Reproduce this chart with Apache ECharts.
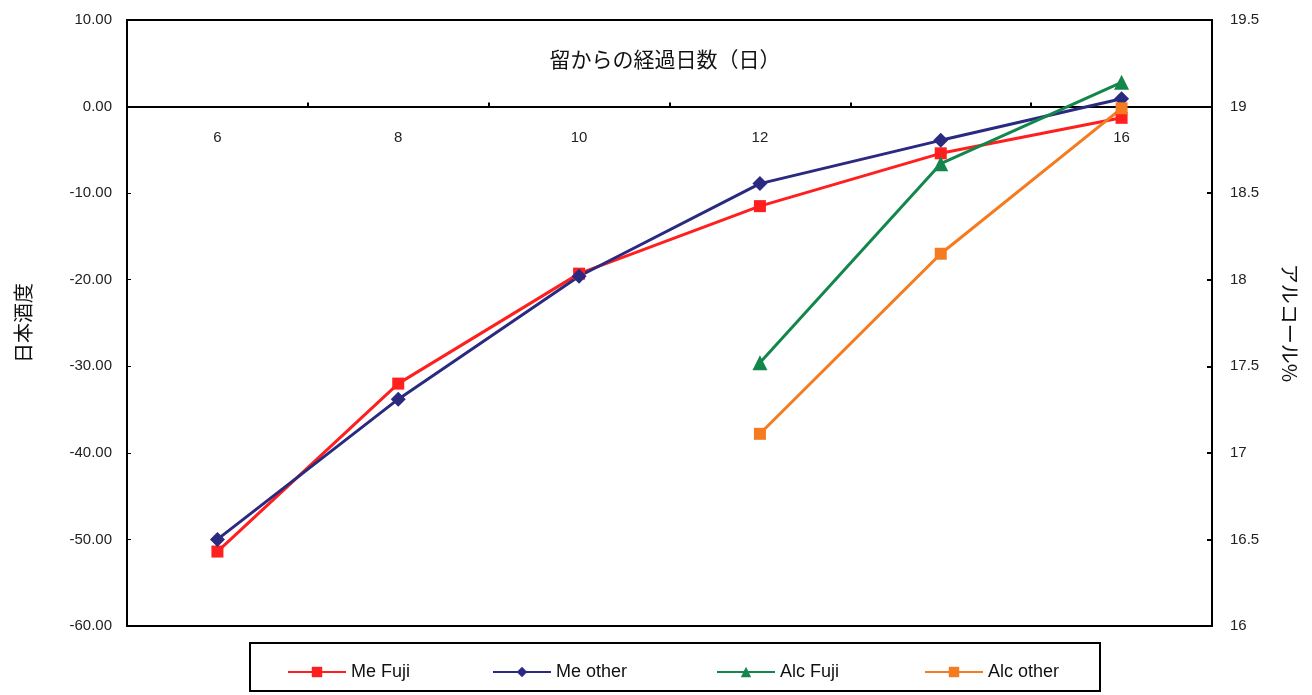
<!DOCTYPE html>
<html><head><meta charset="utf-8">
<script src="https://cdn.jsdelivr.net/npm/echarts@6/dist/echarts.min.js"></script>
<style>html,body{margin:0;padding:0;background:#fff}#c{width:1312px;height:695px}</style>
</head><body><div id="c"></div>
<script>
var categories = ['6','8','10','12','14','16'];
var meFuji   = [-51.4, -32.0, -19.3, -11.5, -5.4, -1.3];
var meOther  = [-50.0, -33.8, -19.6, -8.9, -3.9, 0.9];
var alcFuji  = [null, null, null, 17.52, 18.67, 19.14];
var alcOther = [null, null, null, 17.11, 18.15, 18.99];
var leftTicks = {min: -60, max: 10, interval: 10};
var rightTicks = {min: 16, max: 19.5, interval: 0.5};
var hiddenXLabels = ['14'];

var FONT = '"Liberation Sans", Arial, sans-serif';
var JFONT = '"Noto Sans CJK JP", sans-serif';
var colors = {meFuji:'#ff1f1f', meOther:'#2a2a80', alcFuji:'#13874b', alcOther:'#f47b20'};

function legendAt(left, name){
  return {left: left, top: 658, itemWidth: 58, itemHeight: 13,
    data: [name], textStyle: {fontFamily: FONT, fontSize: 18, color: '#111'}};
}

var chart = echarts.init(document.getElementById('c'));
chart.setOption({
  animation: false,
  backgroundColor: '#fff',
  title: {text: '留からの経過日数（日）', left: 660, textAlign: 'center', top: 44,
    textStyle: {fontFamily: JFONT, fontSize: 21, fontWeight: 'normal', color: '#111'}},
  grid: {left: 127, right: 100, top: 20, bottom: 69, show: true, borderColor: '#000', borderWidth: 2},
  graphic: [{type: 'rect', shape: {x: 250, y: 643, width: 850, height: 48},
    style: {fill: 'none', stroke: '#000', lineWidth: 2}}],
  legend: [legendAt(282, 'Me Fuji'), legendAt(487, 'Me other'), legendAt(711, 'Alc Fuji'), legendAt(919, 'Alc other')],
  xAxis: {type: 'category', data: categories, boundaryGap: true,
    axisLine: {onZero: true, lineStyle: {color: '#000', width: 2}},
    axisTick: {show: true, inside: true, length: 4, lineStyle: {color: '#000', width: 2}},
    axisLabel: {margin: -496, fontFamily: FONT, fontSize: 15, color: '#222',
      formatter: function(v){ return hiddenXLabels.indexOf(v) >= 0 ? '' : v; }},
    splitLine: {show: false}},
  yAxis: [
    {type: 'value', min: leftTicks.min, max: leftTicks.max, interval: leftTicks.interval,
      name: '日本酒度', nameLocation: 'middle', nameRotate: 90, nameGap: 94,
      nameTextStyle: {fontFamily: JFONT, fontSize: 20, color: '#111'},
      axisLine: {show: true, onZero: false, lineStyle: {color: '#000', width: 2}},
      axisTick: {show: true, inside: true, length: 4, lineStyle: {color: '#000'}},
      axisLabel: {margin: 15, fontFamily: FONT, fontSize: 15, color: '#222',
        formatter: function(v){ return v.toFixed(2); }},
      splitLine: {show: false}},
    {type: 'value', position: 'right', min: rightTicks.min, max: rightTicks.max, interval: rightTicks.interval,
      name: 'アルコール%', nameLocation: 'middle', nameRotate: -90, nameGap: 68,
      nameTextStyle: {fontFamily: JFONT, fontSize: 20, color: '#111'},
      axisLine: {show: true, onZero: false, lineStyle: {color: '#000', width: 2}},
      axisTick: {show: true, inside: true, length: 5, lineStyle: {color: '#000', width: 2}},
      axisLabel: {margin: 18, fontFamily: FONT, fontSize: 15, color: '#222',
        formatter: function(v){ return String(v); }},
      splitLine: {show: false}}
  ],
  series: [
    {name: 'Me Fuji', type: 'line', yAxisIndex: 0, data: meFuji, symbol: 'rect', symbolSize: 12,
      itemStyle: {color: colors.meFuji}, lineStyle: {color: colors.meFuji, width: 3}},
    {name: 'Me other', type: 'line', yAxisIndex: 0, data: meOther, symbol: 'diamond', symbolSize: 15,
      itemStyle: {color: colors.meOther}, lineStyle: {color: colors.meOther, width: 3}},
    {name: 'Alc Fuji', type: 'line', yAxisIndex: 1, data: alcFuji, symbol: 'triangle', symbolSize: 15,
      itemStyle: {color: colors.alcFuji}, lineStyle: {color: colors.alcFuji, width: 3}},
    {name: 'Alc other', type: 'line', yAxisIndex: 1, data: alcOther, symbol: 'rect', symbolSize: 12,
      itemStyle: {color: colors.alcOther}, lineStyle: {color: colors.alcOther, width: 3}}
  ]
});
</script></body></html>
